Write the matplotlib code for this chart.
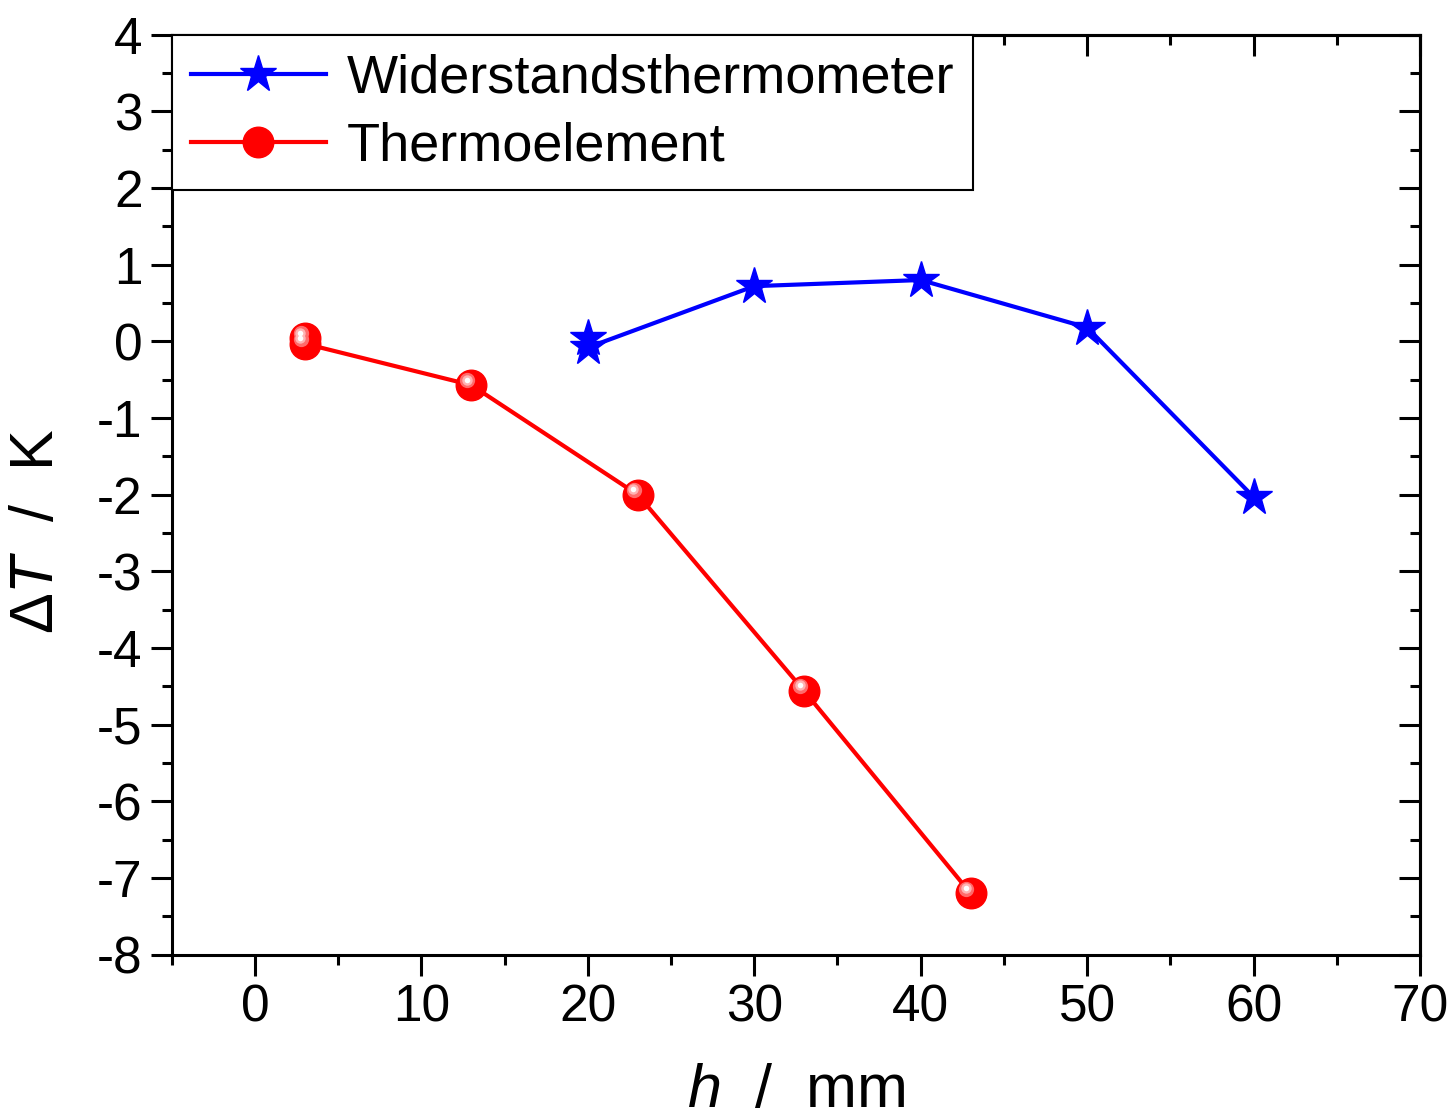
import matplotlib
matplotlib.use("Agg")
import matplotlib.pyplot as plt
from matplotlib.ticker import MultipleLocator, NullFormatter
from matplotlib.transforms import offset_copy

plt.rcParams['font.family'] = ['Liberation Sans', 'DejaVu Sans']
plt.rcParams['axes.unicode_minus'] = False
plt.rcParams['mathtext.fontset'] = 'custom'
plt.rcParams['mathtext.rm'] = 'Liberation Sans'
plt.rcParams['mathtext.it'] = 'Liberation Sans:italic'

# Widerstandsthermometer
h_wt = [20, 20, 30, 40, 50, 60]
dT_wt = [0.05, -0.08, 0.72, 0.80, 0.18, -2.03]

# Thermoelement
h_te = [3, 3, 13, 23, 33, 43]
dT_te = [0.04, -0.03, -0.57, -2.0, -4.56, -7.2]

fig = plt.figure(figsize=(14.55, 11.18), dpi=100)
ax = fig.add_axes([0.118, 0.146, 0.858, 0.823])

ax.plot(h_wt, dT_wt, color='blue', lw=3, marker='*', ms=28,
        mec='blue', mfc='blue', label='Widerstandsthermometer', zorder=3)
ax.plot(h_te, dT_te, color='red', lw=3, marker='o', ms=22,
        mec='red', mfc='red', label='Thermoelement', zorder=3)
# glanz-effekt auf den kugeln
hl1 = offset_copy(ax.transData, fig=fig, x=-3.0, y=3.5, units='points')
hl2 = offset_copy(ax.transData, fig=fig, x=-3.3, y=4.0, units='points')
ax.plot(h_te, dT_te, ls='none', marker='o', ms=11, mec='none', mfc='#ff6b6b',
        transform=hl1, zorder=4)
ax.plot(h_te, dT_te, ls='none', marker='o', ms=7.5, mec='none', mfc='#ffb3b3',
        transform=hl2, zorder=5)
ax.plot(h_te, dT_te, ls='none', marker='o', ms=4, mec='none', mfc='white',
        transform=hl2, zorder=6)

ax.set_xlim(-5, 70)
ax.set_ylim(-8, 4)
ax.xaxis.set_major_locator(MultipleLocator(10))
ax.xaxis.set_minor_locator(MultipleLocator(5))
ax.yaxis.set_major_locator(MultipleLocator(1))
ax.yaxis.set_minor_locator(MultipleLocator(0.5))
ax.tick_params(which='major', direction='out', length=15, width=2.2,
               labelsize=37, pad=6)
ax.tick_params(which='minor', direction='out', length=7, width=2.2)
for s in ax.spines.values():
    s.set_linewidth(2.2)

top = ax.secondary_xaxis('top')
right = ax.secondary_yaxis('right')
top.xaxis.set_major_locator(MultipleLocator(10))
top.xaxis.set_minor_locator(MultipleLocator(5))
top.xaxis.set_major_formatter(NullFormatter())
right.yaxis.set_major_locator(MultipleLocator(1))
right.yaxis.set_minor_locator(MultipleLocator(0.5))
right.yaxis.set_major_formatter(NullFormatter())
for sec in (top, right):
    sec.tick_params(which='major', direction='in', length=15, width=2.2)
    sec.tick_params(which='minor', direction='in', length=7, width=2.2)
top.spines['top'].set_linewidth(2.2)
right.spines['right'].set_linewidth(2.2)

ax.set_xlabel(r'$h$  /  mm', fontsize=44, labelpad=22)
ax.set_ylabel(r'$\Delta\mathit{T}$  /  K', fontsize=44)
ax.yaxis.set_label_coords(-0.085, 0.46)

leg = ax.legend(loc='upper left', fontsize=39, frameon=True, fancybox=False,
                edgecolor='black', framealpha=1, borderaxespad=0.0,
                handlelength=2.5, handletextpad=0.38, borderpad=0.35,
                labelspacing=0.33)
leg.get_frame().set_linewidth(1.5)

fig.savefig('out.png', dpi=100)
